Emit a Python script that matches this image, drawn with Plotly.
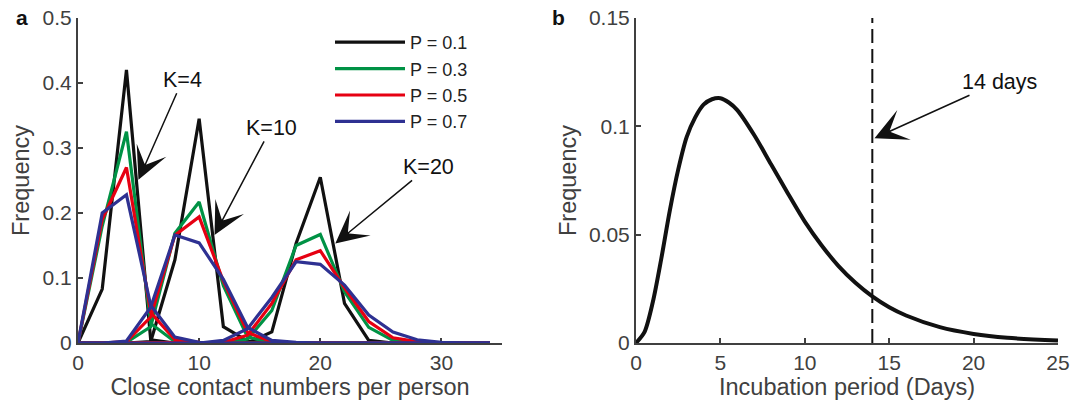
import plotly.graph_objects as go

# ---------------- data ----------------
contacts = [0, 2, 4, 6, 8, 10, 12, 14, 16, 18, 20, 22, 24, 26, 28, 30, 32, 34]

# K = 4
k4_p01 = [0, 0.083, 0.420, 0.005, 0, 0, 0, 0, 0, 0, 0, 0, 0, 0, 0, 0, 0, 0]
k4_p03 = [0, 0.180, 0.325, 0.030, 0.002, 0, 0, 0, 0, 0, 0, 0, 0, 0, 0, 0, 0, 0]
k4_p05 = [0, 0.190, 0.270, 0.047, 0.005, 0.001, 0, 0, 0, 0, 0, 0, 0, 0, 0, 0, 0, 0]
k4_p07 = [0, 0.200, 0.228, 0.058, 0.009, 0.001, 0, 0, 0, 0, 0, 0, 0, 0, 0, 0, 0, 0]
# K = 10
k10_p01 = [0, 0, 0, 0.002, 0.128, 0.345, 0.025, 0.003, 0, 0, 0, 0, 0, 0, 0, 0, 0, 0]
k10_p03 = [0, 0, 0.001, 0.025, 0.169, 0.217, 0.088, 0.009, 0.001, 0, 0, 0, 0, 0, 0, 0, 0, 0]
k10_p05 = [0, 0, 0.002, 0.040, 0.166, 0.194, 0.095, 0.016, 0.002, 0, 0, 0, 0, 0, 0, 0, 0, 0]
k10_p07 = [0, 0, 0.003, 0.055, 0.166, 0.154, 0.098, 0.024, 0.004, 0.001, 0, 0, 0, 0, 0, 0, 0, 0]
# K = 20
k20_p01 = [0, 0, 0, 0, 0, 0, 0, 0, 0.017, 0.153, 0.255, 0.061, 0.004, 0, 0, 0, 0, 0]
k20_p03 = [0, 0, 0, 0, 0, 0, 0, 0.006, 0.050, 0.150, 0.167, 0.079, 0.024, 0.004, 0.001, 0, 0, 0]
k20_p05 = [0, 0, 0, 0, 0, 0, 0.001, 0.012, 0.061, 0.128, 0.142, 0.085, 0.033, 0.008, 0.002, 0, 0, 0]
k20_p07 = [0, 0, 0, 0, 0, 0, 0.004, 0.022, 0.070, 0.125, 0.121, 0.089, 0.043, 0.017, 0.005, 0.001, 0, 0]

p_labels = ["P = 0.1", "P = 0.3", "P = 0.5", "P = 0.7"]
p_colors = ["#111111", "#009245", "#e60012", "#2e3192"]
series_by_p = [
    [k4_p01, k10_p01, k20_p01],
    [k4_p03, k10_p03, k20_p03],
    [k4_p05, k10_p05, k20_p05],
    [k4_p07, k10_p07, k20_p07],
]

# incubation period curve
incub_days = [0, 0.5, 1, 1.5, 2, 2.5, 3, 3.5, 4, 4.5, 5, 5.5, 6, 7, 8, 9, 10,
              11, 12, 13, 14, 15, 16, 18, 20, 22, 25]
incub_freq = [0, 0.005, 0.019, 0.039, 0.061, 0.080, 0.095, 0.104, 0.110, 0.1125,
              0.113, 0.111, 0.1075, 0.096, 0.0825, 0.069, 0.056, 0.045, 0.0355,
              0.0278, 0.0215, 0.0165, 0.0127, 0.0073, 0.0042, 0.0024, 0.0011]
cutoff_day = 14
cutoff_span = [0, 0.15]

# annotations: (text, tip x, tip y, text-centre x, text-centre y)
k_notes = [("K=4", 4.99, 0.251, 8.64, 0.405),
           ("K=10", 11.27, 0.166, 15.95, 0.331),
           ("K=20", 21.24, 0.153, 28.93, 0.271)]
day_note = ("14 days", 14.13, 0.0945, 21.52, 0.1206)

# ---------------- figure ----------------
W, H = 1073, 403
FONT = "Liberation Sans, Arial, Helvetica, sans-serif"
AXC = "#404040"

fig = go.Figure()

for label, color, curves in zip(p_labels, p_colors, series_by_p):
    xs, ys = [], []
    for c in curves:
        xs += contacts + [None]
        ys += c + [None]
    fig.add_trace(go.Scatter(x=xs, y=ys, mode="lines", name=label,
                             line=dict(color=color, width=3.2),
                             xaxis="x", yaxis="y", connectgaps=False))

fig.add_trace(go.Scatter(x=incub_days, y=incub_freq, mode="lines",
                         line=dict(color="#111111", width=4, shape="spline", smoothing=0.8),
                         xaxis="x2", yaxis="y2", showlegend=False))
fig.add_trace(go.Scatter(x=[cutoff_day, cutoff_day], y=cutoff_span, mode="lines",
                         line=dict(color="#111111", width=2, dash="14px,6px"),
                         xaxis="x2", yaxis="y2", showlegend=False))

def px_x(p):
    return p / W

def px_y(p):
    return 1 - p / H

ydom = [px_y(343), px_y(18)]

axis_common = dict(
    showline=True, linecolor=AXC, linewidth=2, mirror=False,
    ticks="inside", ticklen=5, tickwidth=2, tickcolor=AXC,
    showgrid=False, zeroline=False, layer="below traces", automargin=False,
    tickfont=dict(family=FONT, size=21, color=AXC),
    title_font=dict(family=FONT, size=23.5, color=AXC),
)

fig.update_layout(
    width=W, height=H,
    margin=dict(l=0, r=0, t=0, b=0, autoexpand=False),
    paper_bgcolor="white", plot_bgcolor="white",
    font=dict(family=FONT),
    xaxis=dict(domain=[px_x(78), px_x(502)], range=[0, 35],
               tickvals=[0, 10, 20, 30], anchor="y",
               title=dict(text="Close contact numbers per person", standoff=4),
               **axis_common),
    yaxis=dict(domain=ydom, range=[0, 0.5],
               tickvals=[0, 0.1, 0.2, 0.3, 0.4, 0.5],
               ticktext=["0", "0.1", "0.2", "0.3", "0.4", "0.5"], anchor="x",
               title=dict(text="Frequency", standoff=6),
               **axis_common),
    xaxis2=dict(domain=[px_x(636), px_x(1058)], range=[0, 25],
                tickvals=[0, 5, 10, 15, 20, 25], anchor="y2",
                title=dict(text="Incubation period (Days)", standoff=4),
                **axis_common),
    yaxis2=dict(domain=ydom, range=[0, 0.15],
                tickvals=[0, 0.05, 0.1, 0.15],
                ticktext=["0", "0.05", "0.1", "0.15"], anchor="x2",
                title=dict(text="Frequency", standoff=6),
                **axis_common),
    legend=dict(x=px_x(330), y=px_y(24), xanchor="left", yanchor="top",
                bgcolor="rgba(0,0,0,0)", borderwidth=0,
                font=dict(family=FONT, size=18, color="#222222"),
                itemwidth=70, tracegroupgap=0),
    showlegend=True,
)

annos = []
for text, tx, ty, cx, cy in k_notes:
    annos.append(dict(x=tx, y=ty, xref="x", yref="y", ax=cx, ay=cy,
                      axref="x", ayref="y", text=text, showarrow=True,
                      arrowhead=3, arrowsize=3.6, arrowwidth=1.5, arrowcolor="#111111",
                      font=dict(family=FONT, size=21.5, color="#111111")))
text, tx, ty, cx, cy = day_note
annos.append(dict(x=tx, y=ty, xref="x2", yref="y2", ax=cx, ay=cy,
                  axref="x2", ayref="y2", text=text, showarrow=True,
                  arrowhead=3, arrowsize=3.6, arrowwidth=1.5, arrowcolor="#111111",
                  font=dict(family=FONT, size=21.5, color="#111111")))
annos.append(dict(x=px_x(22), y=px_y(18), xref="paper", yref="paper", text="<b>a</b>",
                  showarrow=False, xanchor="center", yanchor="middle",
                  font=dict(family=FONT, size=21, color="#111111")))
annos.append(dict(x=px_x(558), y=px_y(18), xref="paper", yref="paper", text="<b>b</b>",
                  showarrow=False, xanchor="center", yanchor="middle",
                  font=dict(family=FONT, size=21, color="#111111")))
fig.update_layout(annotations=annos)

fig.write_html("out.html")
